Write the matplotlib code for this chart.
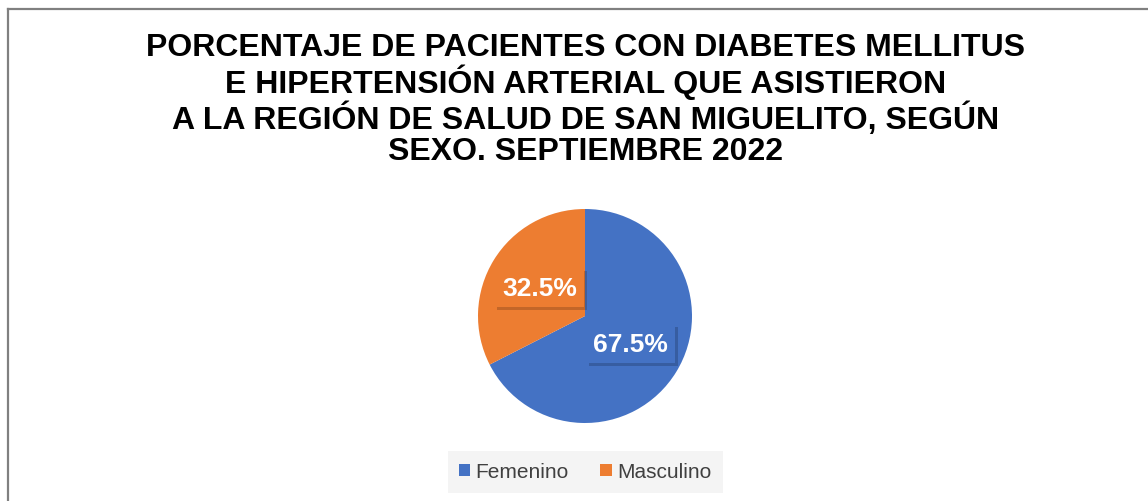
import matplotlib
matplotlib.use("Agg")
import matplotlib.pyplot as plt
import matplotlib.patheffects as pe
from matplotlib.lines import Line2D
from matplotlib.patches import Patch

labels = ["Femenino", "Masculino"]
values = [67.5, 32.5]
colors = ["#4472C4", "#ED7D31"]
title = ("PORCENTAJE DE PACIENTES CON DIABETES MELLITUS\n"
         "E HIPERTENSIÓN ARTERIAL QUE ASISTIERON\n"
         "A LA REGIÓN DE SALUD DE SAN MIGUELITO, SEGÚN\n"
         "SEXO. SEPTIEMBRE 2022")

W, H = 1148, 502
plt.rcParams["font.family"] = ["Liberation Sans", "DejaVu Sans"]
fig = plt.figure(figsize=(W / 100, H / 100), dpi=100)

# border (left and top only visible)
fig.add_artist(Line2D([8 / W, 8 / W], [0, 1 - 10 / H], transform=fig.transFigure,
                      color="#808080", lw=1.6))
fig.add_artist(Line2D([8 / W, 1], [1 - 10 / H, 1 - 10 / H], transform=fig.transFigure,
                      color="#808080", lw=1.6))

fig.text(586 / W, 1 - 100 / H, title, ha="center", va="center", fontsize=23,
         fontweight="bold", color="black", linespacing=1.07)

cx, cy, r = 585, 317, 107
ax = fig.add_axes([(cx - r) / W, (H - cy - r) / H, 2 * r / W, 2 * r / H])
wedges, _, autotexts = ax.pie(values, colors=colors, startangle=90, counterclock=False,
                              autopct="%1.1f%%", pctdistance=0.5, radius=1,
                              wedgeprops=dict(linewidth=0))
for t, c in zip(autotexts, colors):
    t.set_color("white")
    t.set_fontsize(19)
    t.set_fontweight("bold")
    t.set_bbox(dict(boxstyle="square,pad=0.28", facecolor=c, edgecolor="none"))
    t.get_bbox_patch().set_path_effects([pe.SimplePatchShadow(offset=(2, -2), alpha=0.25),
                                         pe.Normal()])
ax.set_xlim(-1, 1)
ax.set_ylim(-1, 1)
ax.set_aspect("equal")
ax.axis("off")

handles = [Patch(facecolor=c, edgecolor="none") for c in colors]
leg = fig.legend(handles, labels, loc="center", bbox_to_anchor=(585 / W, 1 - 473 / H),
                 ncol=2, frameon=True, fontsize=15, handlelength=0.55, handleheight=0.55,
                 handletextpad=0.25, columnspacing=1.5, borderpad=0.55, fancybox=False)
leg.get_frame().set_facecolor("#F2F2F2")
leg.get_frame().set_edgecolor("none")
for t in leg.get_texts():
    t.set_color("#404040")

fig.savefig("out.png", dpi=100, facecolor="white")
